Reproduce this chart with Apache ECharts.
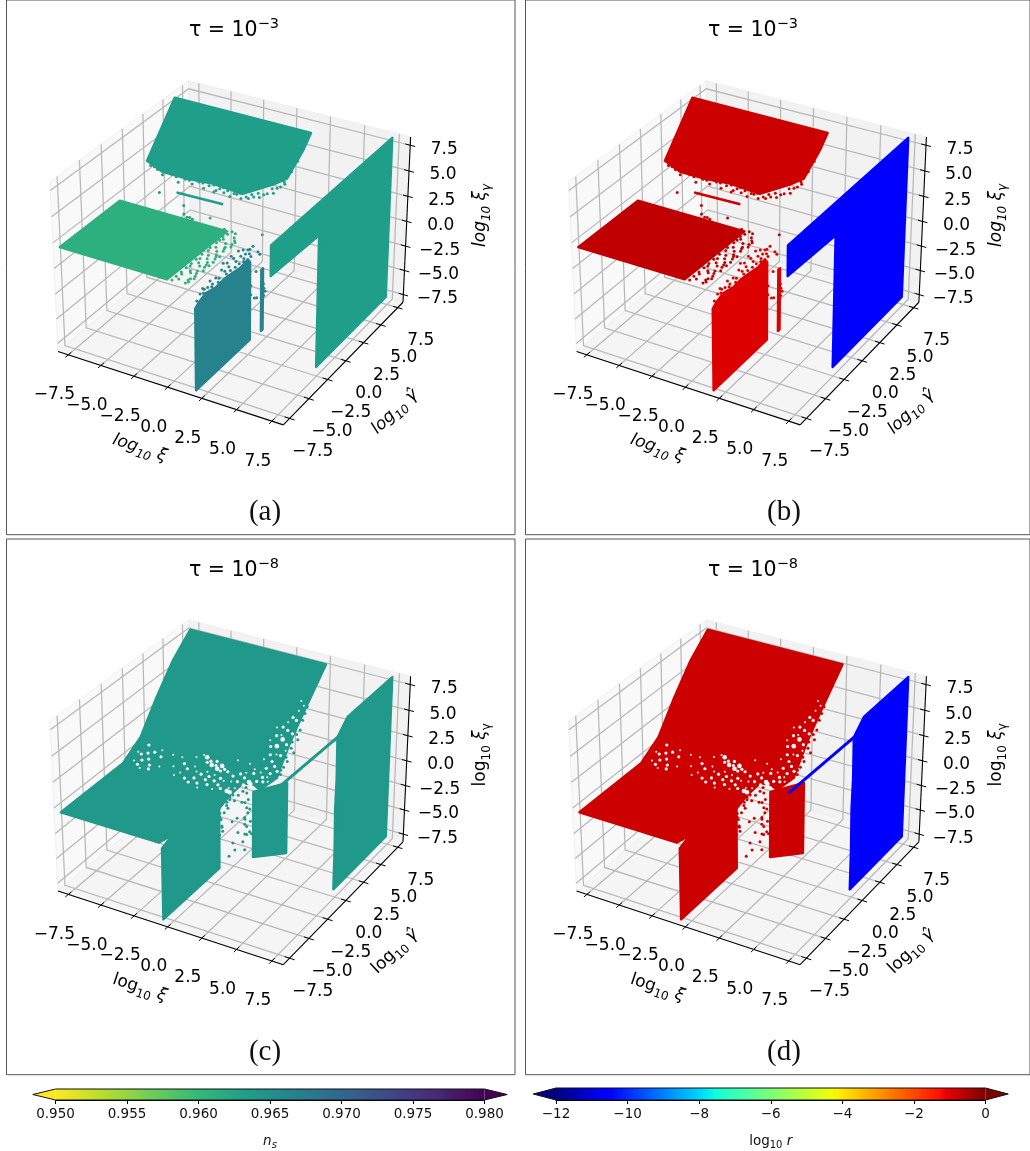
<!DOCTYPE html>
<html><head><meta charset="utf-8">
<style>html,body{margin:0;padding:0;background:#fff}#c{width:1030px;height:1151px}</style>
<script src="https://cdn.jsdelivr.net/npm/echarts@6/dist/echarts.min.js"></script>
</head><body><div id="c"></div>
<script>
// ---------- axis data ----------
const tickValues = [-7.5,-5,-2.5,0,2.5,5,7.5];
const axisLimit = 8.3;
const nsTicks = [0.95,0.955,0.96,0.965,0.97,0.975,0.98];
const logrTicks = [-12,-10,-8,-6,-4,-2,0];
const viridisStops = ['#440154','#482878','#3e4989','#31688e','#26828e','#1f9e89','#35b779','#6ece58','#b5de2b','#fde725'];
const jetStops = [[0,'#00007f'],[.11,'#0000ff'],[.125,'#0000ff'],[.34,'#00dbff'],[.375,'#15ffd9'],[.64,'#f0ff08'],[.66,'#ffed00'],[.89,'#ff1200'],[.91,'#e80000'],[1,'#7f0000']];

// ---------- tau = 1e-3 : values read as [log xi, log gamma, log xi_gamma] ----------
const t3Top = [[-8,6,8],[2.3,6,8],[2.27,5,6.86],[1.99,3.4,5.02],[1.23,2.92,4.47],[-.52,2.05,3.47],[-2.83,2.15,3.59],[-4.74,2.05,3.47],[-6.57,2.05,3.47],[-8,2.4,3.87]];
const t3TopDots = [[-7.6,2.2,3.64],[-7,2.1,3.53],[-6.5,1.9,3.3],[-6.1,2.2,3.64],[-5.5,2,3.41],[-5.2,1.75,3.13],[-4.8,2,3.41],[-4.2,1.85,3.24],[-3.8,2.05,3.47],[-3.3,1.8,3.18],[-3,2,3.41],[-2.5,1.75,3.13],[-2.2,2,3.41],[-1.8,1.85,3.24],[-1.3,1.75,3.13],[-.9,1.95,3.36],[-.5,1.8,3.18],[0,1.9,3.3],[.3,2.05,3.47],[.7,2.1,3.53],[1.1,2.4,3.87],[1.5,2.5,3.99],[1.8,2.9,4.45],[2,3.1,4.68],
[-7.3,2.2,3.64],[-6.8,2.15,3.59],[-5.9,2.05,3.47],[-5.6,2.2,3.64],[-4.5,2,3.41],[-4,2.1,3.53],[-3.5,2.05,3.47],[-3.1,2.15,3.59],[-2.7,2.1,3.53],[-2.4,1.85,3.24],[-2,2.1,3.53],[-1.6,2,3.41],[-1.1,1.95,3.36],[-.7,2.05,3.47],[-.2,1.95,3.36],[.1,2.15,3.59],[.5,2.3,3.76],[.9,2.3,3.76],[1.3,2.7,4.22],[1.6,2.8,4.33],[1.9,3.2,4.79],[2.1,3.8,5.48],[2.2,4.4,6.17],
[-6.2,1,2.2],[-5.83,1,4.4],[-4.34,1,1.6],[-4.34,1,.75],[-4.1,1,.5],[-3.9,1,.55],[-3.7,1,.45]];
const t3Flat = [[-8,-8,2],[-8,-1,2],[.1,-1,2],[-.1,-8,2]];
const t3FlatDots = [[.3,-1.3,2],[.4,-2,2],[.25,-2.6,2],[.5,-3.1,2],[.3,-3.7,2],[.6,-4.2,2],[.35,-4.8,2],[.55,-5.3,2],[.3,-5.9,2],[.6,-6.4,2],[.35,-7,2],[.5,-7.6,2],[.2,-7.9,2],[.9,-1.5,2],[1.1,-1.8,2],[1.2,-2.3,2],[1,-2.8,2],[1.15,-3.3,2],[1,-3.9,2],[1.2,-4.4,2],[1,-5,2],[1.15,-5.6,2],[1,-6.2,2],[1.2,-6.8,2],[1.05,-7.4,2],[1.1,-7.8,2],[.8,-3.5,2],[.75,-4.6,2],[.8,-5.6,2],[.75,-6.6,2],[.8,-2.4,2],[.4,-.9,2],[.7,-1,2],[-.2,-.85,2],[-2.34,1,1.1],[1.54,1,.9],
[.2,-1.7,2],[.25,-2.2,2],[.2,-3.3,2],[.2,-4.3,2],[.2,-5,2],[.2,-5.6,2],[.2,-6.2,2],[.2,-6.8,2],[.2,-7.4,2],[1.25,-2,2],[1.3,-2.6,2],[1.3,-4,2],[1.3,-4.8,2],[1.3,-5.3,2],[1.3,-6,2],[1.3,-7.1,2],[1.2,-7.6,2],[1.1,-7.2,2],[1.1,-6.5,2],[1.1,-5.3,2],[1.1,-4.1,2],[1.05,-3,2]];
const t3Strip = [[-4.8,1,2.7],[-1.45,1,2.8]];
const t3Front = [[1.9,-8,-8],[1.9,-1.2,-8],[1.9,-1.2,-.2],[1.9,-1.5,.3],[1.9,-2.4,.1],[1.9,-3.5,.3],[1.9,-4.5,.4],[1.9,-5.5,.3],[1.9,-6.7,.6],[1.9,-7.6,.3],[1.9,-8,0]];
const t3FrontDots = [[1.9,-7.8,.6],[1.9,-7.4,1],[1.9,-7.1,1.3],[1.9,-6.9,1.1],[1.9,-6.5,1],[1.9,-6.2,1.4],[1.9,-5.9,.9],[1.9,-5.5,1.2],[1.9,-5.1,.9],[1.9,-4.8,1.5],[1.9,-4.4,1.1],[1.9,-4.6,2],[1.9,-4.1,1.7],[1.9,-3.9,1.2],[1.9,-3.6,2],[1.9,-3.3,1.6],[1.9,-3,1.1],[1.9,-2.7,1.9],[1.9,-2.4,1.2],[1.9,-2.1,1.6],[1.9,-1.8,1],[1.9,-1.5,1.2],[1.9,-1.3,.7],[.86,1,-.5],[1.23,1,-.9],[1.37,1,-1.1],[.71,1,-1.6],[.17,1,-2.3],
[1.9,-7,.8],[1.9,-6,.7],[1.9,-5.2,.6],[1.9,-4.2,.7],[1.9,-3.7,.7],[1.9,-3.1,.6],[1.9,-2.6,.6],[1.9,-2,.7],[1.9,-1.25,1.1],[1.9,-1.3,-2],[1.9,-1.1,-2.6],[1.9,-1.1,-3.5]];
const t3Thin = [[2,.1,-8],[2,.3,-8],[2,.3,-1.8],[2,.1,-1.8]];
const t3ThinDots = [[2,-.5,-4.2],[2,-.8,-4],[2,.6,-4.3],[2,-.6,-1.5],[2,.45,-3.9],[2,.42,-4.6],[2,.38,-3.4]];
const t3Right = [[7.15,-8,8],[7.15,8,8],[7.15,8,-8],[7.15,-1.9,-8],[7.15,-1.9,4.9],[7.15,-8,5.2]];
const t3Ns =   {top:.9633, flat:.9611, front:.9665, right:.9633};
const t3LogR = {top:-.8,  flat:-.67,  front:-.97,  right:-10.6};

// ---------- tau = 1e-8 ----------
const t8Main = [[-8,-8,-.5],[-8,-.7,-.5],[-8,1.5,.7],[-8,3.6,3.45],[-8,5.75,5.86],[-8,8,7.6],[2.35,8,7.6],[2.4,5,4.9],[2.4,4,3.9],[2.4,3,2.8],[2.4,2,1.5],[2.4,1.4,.6],[1.7,.4,-.2],[1,.9,-.3],[.13,.97,-.5],[.18,-.79,-.5],[.47,-2.85,-.5],[-.1,-3.2,-.5],[-.4,-6.6,-.5],[-.7,-8,-.5]];
const t8HolesSmall = [[-7.4,-.3,-.27],[-7.5,.4,.12],[-6.7,-.7,-.49],[-6,1,.45],[-5.5,-.2,-.21],[-5.1,.9,.4],[-4.6,.1,-.05],[-4.4,.9,.4],[-3.9,-.2,-.21],[-3.5,1.2,.56],[-3.2,.5,.18],[-3.1,1.5,.73],[-2.9,.2,.01],[-2.2,.4,.12],[-1.6,.3,.07],[-.8,.1,-.05],[-.3,.2,.01],[.3,1.1,.5],[.2,-.2,-.21],[-.2,-.3,-.27],[.9,.1,-.05],[1.2,1.4,.67],[1.8,1.2,.56],[2,.9,.4],[.7,1.5,.73],[.3,1.6,1.07],[-.6,1.6,1.07],[1.1,2,1.55],[1,3,2.75],[1.1,3.7,3.59],[1.7,4.1,4.07],[2.1,4.8,4.91],[2.3,5.1,5.27],[2,5.3,5.51],[1.6,3.4,3.23],[2.3,2.7,2.39],[1.8,2.4,2.03],[-4.2,-.5,-.38],[-2.2,-.9,-.6],[-1.2,-.7,-.49]];
const t8Holes = [[-7,-.5,-.37],[-6.9,-.1,-.16],[-7.2,.3,.07],[-6.8,.5,.18],[-6.4,.7,.29],[-7.1,1.1,.5],[-6.2,-.3,-.27],[-6.5,.1,-.05],[-5.8,.5,.18],[-6.1,-.6,-.43],
[-2.4,1.2,.56],[-2,1.3,.62],[-1.9,1,.45],[-1.2,.9,.4],[-.9,.8,.34],[-2.6,1.05,.48],[-1.4,.7,.29],
[-3.4,-.5,-.38],[-3,-.7,-.49],[-2.8,-.3,-.27],[-2.4,-.6,-.43],[-2,-.2,-.21],[-1.7,-.5,-.38],[-1.4,-.1,-.16],[-1,-.3,-.27],[-.7,-.5,-.38],[-1.9,.1,-.05],[-2.5,.1,-.05],[-1.1,.2,.01],[-4,.5,.18],[-3.6,.2,.01],
[-.4,.6,.23],[0,.9,.4],[.4,.7,.29],[.8,1.2,.56],[1.3,.7,.29],[.6,.2,.01],[.1,.3,.07],[1.5,1.1,.5],[1.7,.8,.34],
[1.4,2.3,1.91],[1.7,2,1.55],[2,1.8,1.31],[1.2,2.7,2.39],[2.1,2.4,2.03],[1.3,3.3,3.11],[2.2,3,2.75],[1.9,3.7,3.59],[1.5,3.8,3.71],[2.3,3.6,3.47],[2.2,4.3,4.31],[1.9,4.4,4.43],[2.3,1.6,1.07],[1.9,1.4,.83],[1.5,1.6,1.07]];
const t8HolesLarge = [[-2.8,1.4,.67],[-1.5,1.1,.5],[-1.7,.8,.34],[-2.2,.95,.42],[1,.4,.12],[.85,.5,.18],[1.6,2.8,2.51],[1.8,3.2,2.99],[-.2,-.55,-.4],[.05,-.6,-.4]];
const t8Dots = [[2.6,1.5,.95],[2.7,2.2,1.8],[2.6,2.9,2.6],[2.8,3.4,3.2],[2.7,3.9,3.8],[2.6,4.4,4.4],[2.6,1.9,1.4],[2.9,2.7,2.4],[2.5,5.2,5.2],[2.55,4.8,4.8],[2.5,3.2,3],[2.5,2.4,2],[2.6,3.6,3.5],[2.5,1.7,1.2],
[.4,-1.3,-6.2],[.4,-.54,-6.1],[.4,.75,-7],[.4,-.8,-5.2],[.4,.5,-6],[.4,-.14,-4.6],[.4,1,-5.6],[.4,1.65,-6],[.4,-.9,-3],[.4,-.25,-3.1],[.4,.75,-3.7],[.4,1,-2.9],[.4,.37,-1.9],[.4,-1.2,-.6],[.4,-2.45,-1.1],[.4,-2.2,-2.5],[.4,1,-1.4],[.4,.75,-4.4],[.4,-2.3,-1.8],[.4,-1.9,-1.4],[.4,-2.1,-3.1],[.4,-1.6,-.9],[.4,-.6,-1.1],[.4,-.1,-.9],[.4,1.4,-3.3],[.4,1.5,-4.6],
[.4,-2.71,-.6],[.4,-2.46,-1.47],[.4,-2.71,-1.9],[.4,-2.2,-2.64],[.4,-2.07,-.35],[.4,-1.56,-.59],[.4,-1.17,-.35],[.4,-.78,-.42],[.4,-1.43,-1.27],[.4,.76,-2.2],[.4,1.14,-3.5],[.4,.76,-3.9],[.4,1,-4.8],[.4,1.4,-5.6],[.4,.76,-5.4],[.4,-2.6,-2.2],[.4,-2.5,-3.2],[.4,-2.75,-1.2],[.4,1.2,-2.2],[.4,.9,-.8],[.4,.5,-.9],
[-.6,-7.6,-.45],[-.5,-7.2,-.45],[-.3,-7,-.45],[-.1,-6.5,-.45],[.1,-6.1,-.45],[-.1,-5.7,-.45]];
const t8Middle = [[.73,1.28,-8],[2.38,2.82,-8],[2.38,2.82,-.86],[.73,1.28,-1.37]];
const t8Front = [[-.5,-8,-8],[-.5,-1,-8],[-.5,-1,-.5],[-.5,-6.6,-.5],[-.5,-8,-1]];
const t8Right = [[7.15,.45,-8],[7.15,8,-8],[7.15,8,8],[7.15,1.8,8],[7.15,.45,6.9],[7.15,.5,3],[7.15,.4,0],[7.15,.48,-4]];
const t8Line = [[7.15,.45,6.9],[7.15,-7.8,7.2]];
const t8Ns =   {main:.964, right:.964};
const t8LogR = {main:-.79, right:-10.6};

// ---------- page layout ----------
const S = 2168, PW = 508.5, PH = 535.7;
const panels = [
 {left:6.5, top:-1,  exp:'−3', tag:'(a)', by:'ns',  set:3, italic:true},
 {left:525.5,top:-1, exp:'−3', tag:'(b)', by:'r',   set:3, italic:true},
 {left:6.5, top:539, exp:'−8', tag:'(c)', by:'ns',  set:8, italic:false},
 {left:525.5,top:539,exp:'−8', tag:'(d)', by:'r',   set:8, italic:false}
];
const FONT='"DejaVu Sans"';

function project(p){
  const L=2*axisLimit, x=p[0]/L*1.1905, y=p[1]/L*1.1905, z=p[2]/L*0.8929;
  const D=10-.433*x+.75*y-.5*z;
  return [(.866*x+.5*y)/D, (-.25*x+.433*y+.866*z)/D];
}
function lerpHex(a,b,t){const pa=[1,3,5].map(i=>parseInt(a.substr(i,2),16)),pb=[1,3,5].map(i=>parseInt(b.substr(i,2),16));
  return 'rgb('+pa.map((v,i)=>Math.round(v+(pb[i]-v)*t)).join(',')+')';}
function viridisR(ns){const t=(0.98-ns)/0.03*(viridisStops.length-1),i=Math.min(Math.floor(t),viridisStops.length-2);return lerpHex(viridisStops[i],viridisStops[i+1],t-i);}
function jet(r){const t=(r+12)/12;for(let i=0;i<jetStops.length-1;i++){if(t<=jetStops[i+1][0])return lerpHex(jetStops[i][1],jetStops[i+1][1],(t-jetStops[i][0])/(jetStops[i+1][0]-jetStops[i][0]));}return jetStops[jetStops.length-1][1];}

const grids=[],xAxes=[],yAxes=[],series=[],titles=[];
let zc=2;
panels.forEach((p,i)=>{
  const cx=p.left+227.2, cy=p.top+245;
  grids.push({left:p.left,top:p.top,width:PW,height:PH,show:true,borderColor:'#555',borderWidth:1,backgroundColor:'transparent'});
  xAxes.push({gridIndex:i,type:'value',show:false,min:(p.left-cx)/S,max:(p.left+PW-cx)/S});
  yAxes.push({gridIndex:i,type:'value',show:false,min:(cy-p.top-PH)/S,max:(cy-p.top)/S});
  titles.push({text:'{m|τ = 10}{s|'+p.exp+'}',left:p.left+222.5,top:p.top+13,textAlign:'center',
    textStyle:{fontWeight:'normal',rich:{m:{fontFamily:FONT,fontSize:20.5,fontWeight:'normal',color:'#000',lineHeight:28},s:{fontFamily:FONT,fontSize:14.5,fontWeight:'normal',color:'#000',lineHeight:28,verticalAlign:'top'}}}});
  titles.push({text:p.tag,left:p.left+253.5,top:p.top+494,textAlign:'center',textStyle:{fontFamily:'"Liberation Serif"',fontSize:29,fontWeight:'normal',color:'#111'}});

  const L=axisLimit, pane=[
    {pts:[[-L,-L,-L],[L,-L,-L],[L,L,-L],[-L,L,-L]],fill:'#f5f5f5'},
    {pts:[[-L,-L,-L],[-L,L,-L],[-L,L,L],[-L,-L,L]],fill:'#f9f9f9'},
    {pts:[[-L,L,-L],[L,L,-L],[L,L,L],[-L,L,L]],fill:'#f2f2f2'}];
  const gridLines=[];
  tickValues.forEach(v=>{
    gridLines.push([[v,-L,-L],[v,L,-L],[v,L,L]]);
    gridLines.push([[L,v,-L],[-L,v,-L],[-L,v,L]]);
    gridLines.push([[-L,-L,v],[-L,L,v],[L,L,v]]);
  });
  const axisLines=[[[-L,-L,-L],[L,-L,-L]],[[L,-L,-L],[L,L,-L]],[[L,L,-L],[L,L,L]]];
  tickValues.forEach(v=>{
    axisLines.push([[v,-L-.35,-L],[v,-L+.35,-L]]);
    axisLines.push([[L+.35,v,-L],[L-.35,v,-L]]);
    axisLines.push([[L-.35,L,v],[L+.35,L,v]]);
  });
  const gridIdx={xAxisIndex:i,yAxisIndex:i};
  const poly=(api,pts)=>pts.map(q=>api.coord(project(q)));
  series.push({type:'custom',...gridIdx,z:zc++,silent:true,clip:false,data:[[0,0]],renderItem:(pr,api)=>{
    const ch=[];
    pane.forEach(a=>ch.push({type:'polygon',shape:{points:poly(api,a.pts)},style:{fill:a.fill,stroke:'#f0f0f0',lineWidth:1}}));
    gridLines.forEach(g=>ch.push({type:'polyline',shape:{points:poly(api,g)},style:{fill:null,stroke:'#b8b8b8',lineWidth:1.25}}));
    axisLines.forEach((g,k)=>ch.push({type:'polyline',shape:{points:poly(api,g)},style:{fill:null,stroke:'#000',lineWidth:k<3?1.1:1}}));
    return {type:'group',children:ch};
  }});
  const fmt=v=>(v<0?'−':'')+Math.abs(v).toFixed(1);
  const it=p.italic?'italic':'normal';
  const richLabel={m:{fontFamily:FONT,fontSize:17,fontStyle:it,fill:'#000',lineHeight:24},
                   i:{fontFamily:FONT,fontSize:17,fontStyle:'italic',fill:'#000',lineHeight:24},
                   d:{fontFamily:FONT,fontSize:12,fontStyle:it,fill:'#000',lineHeight:24,verticalAlign:'bottom'}};
  series.push({type:'custom',...gridIdx,z:zc++,silent:true,clip:false,data:[[0,0]],renderItem:(pr,api)=>{
    const ch=[];
    const txt=(q,dx,dy,s,rot,style)=>{const c=api.coord(project(q));ch.push({type:'text',x:c[0]+dx,y:c[1]+dy,rotation:rot||0,style:Object.assign({text:s,fontFamily:FONT,fontSize:17,fill:'#000',align:'center',verticalAlign:'middle'},style||{})});};
    tickValues.forEach(v=>{
      txt([v,-L,-L],-14,40,fmt(v));
      txt([L,v,-L],23,33,fmt(v));
      txt([L,L,v],34,4,fmt(v));
    });
    txt([0,-L,-L],-28,61,'{m|log}{d|10}{i| ξ}',-0.32,{rich:richLabel});
    txt([L,0,-L],49,51,'{m|log}{d|10}{i| γ̂}',0.76,{rich:richLabel});
    txt([L,L,0],74,-6,'{m|log}{d|10}{i| ξ}{d|γ}',Math.PI/2,{rich:richLabel});
    return {type:'group',children:ch};
  }});
  const color=(ns,r)=>p.by==='ns'?viridisR(ns):jet(r);
  const sheet=(pts,c,lw)=>series.push({type:'custom',...gridIdx,z:zc++,silent:true,clip:false,data:[[0,0]],renderItem:(pr,api)=>({type:'polygon',shape:{points:poly(api,pts)},style:{fill:c,stroke:c,lineWidth:lw||2.4,lineJoin:'round'}})});
  const dots=(pts,c,size)=>series.push({type:'scatter',...gridIdx,z:zc++,silent:true,clip:false,symbolSize:size||3,itemStyle:{color:c,opacity:1},data:pts.map(project)});
  if(p.set===3){
    const top=color(t3Ns.top,t3LogR.top),flat=color(t3Ns.flat,t3LogR.flat),fr=color(t3Ns.front,t3LogR.front),rt=color(t3Ns.right,t3LogR.right);
    sheet(t3Top,top);dots(t3TopDots,top);
    sheet(t3Strip,top,2.6);
    sheet(t3Flat,flat);dots(t3FlatDots,flat);
    sheet(t3Thin,fr,2.6);dots(t3ThinDots,fr);
    sheet(t3Front,fr);dots(t3FrontDots,fr);
    sheet(t3Right,rt);
  }else{
    const m=color(t8Ns.main,t8LogR.main),rt=color(t8Ns.right,t8LogR.right);
    sheet(t8Main,m);
    dots(t8HolesSmall,'#f6f6f6',2);dots(t8Holes,'#f6f6f6',3.2);dots(t8HolesLarge,'#f6f6f6',4.6);
    dots(t8Dots,m);
    sheet(t8Middle,m);
    sheet(t8Front,m);
    sheet(t8Right,rt);sheet(t8Line,rt,3);
  }
});

// ---------- colour bars ----------
function colorbar(idx,left,top,width,height,min,max,ticks,name,fmt,stops,rich){
  grids.push({left,top,width,height,show:false});
  xAxes.push({gridIndex:idx,type:'value',min,max,interval:ticks[1]-ticks[0],position:'bottom',
    axisLine:{show:true,onZero:false,lineStyle:{color:'#000',width:1}},axisTick:{show:true,length:4,lineStyle:{color:'#000',width:1}},splitLine:{show:false},
    axisLabel:{formatter:fmt,color:'#111',fontFamily:FONT,fontSize:13.5,margin:7,showMinLabel:true,showMaxLabel:true},
    name,nameLocation:'middle',nameGap:32,nameTextStyle:{rich}});
  yAxes.push({gridIndex:idx,type:'value',show:false,min:0,max:1});
  const ext=(max-min)*0.053;
  series.push({type:'custom',xAxisIndex:idx,yAxisIndex:idx,z:zc++,silent:true,clip:false,data:[[min,0]],renderItem:(pr,api)=>{
    const a=api.coord([min,0]),b=api.coord([max,1]),tipL=api.coord([min-ext,.5]),tipR=api.coord([max+ext,.5]);
    const first=stops[0][1],last=stops[stops.length-1][1];
    return {type:'group',children:[
      {type:'polygon',shape:{points:[[a[0],a[1]],[tipL[0],tipL[1]],[a[0],b[1]]]},style:{fill:first}},
      {type:'polygon',shape:{points:[[b[0],a[1]],[tipR[0],tipR[1]],[b[0],b[1]]]},style:{fill:last}},
      {type:'rect',shape:{x:a[0],y:b[1],width:b[0]-a[0],height:a[1]-b[1]},style:{fill:new echarts.graphic.LinearGradient(0,0,1,0,stops.map(s=>({offset:s[0],color:s[1]})))}},
      {type:'polygon',shape:{points:[[a[0],a[1]],[tipL[0],tipL[1]],[a[0],b[1]],[b[0],b[1]],[tipR[0],tipR[1]],[b[0],a[1]]]},style:{fill:null,stroke:'#111',lineWidth:1}}
    ]};
  }});
}
const viridisRevStops=viridisStops.slice().reverse().map((c,k)=>[k/(viridisStops.length-1),c]);
const cbRich={m:{fontFamily:FONT,fontSize:13.5,color:'#111',lineHeight:18},i:{fontFamily:FONT,fontSize:13.5,fontStyle:'italic',color:'#111',lineHeight:18},d:{fontFamily:FONT,fontSize:10,color:'#111',lineHeight:18,verticalAlign:'bottom'},e:{fontFamily:FONT,fontSize:10,fontStyle:'italic',color:'#111',lineHeight:18,verticalAlign:'bottom'}};
colorbar(4,55.5,1089,429,14,nsTicks[0],nsTicks[6],nsTicks,'{i|n}{e|s}',v=>v.toFixed(3),viridisRevStops,cbRich);
colorbar(5,556,1088,429.5,14.3,logrTicks[0],logrTicks[6],logrTicks,'{m|log}{d|10}{i| r}',v=>String(v).replace('-','−'),jetStops,cbRich);

const chart=echarts.init(document.getElementById('c'),null,{renderer:'canvas',width:1030,height:1151});
chart.setOption({animation:false,backgroundColor:'#fff',title:titles,grid:grids,xAxis:xAxes,yAxis:yAxes,series});
</script></body></html>
